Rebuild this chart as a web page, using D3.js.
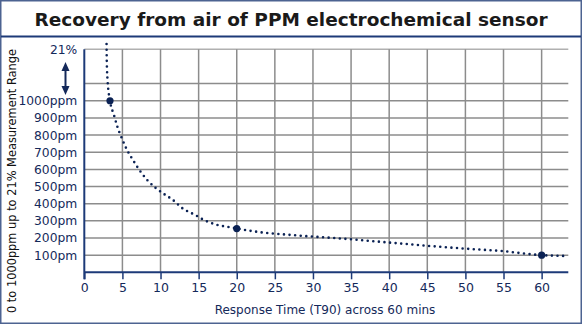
<!DOCTYPE html>
<html><head><meta charset="utf-8">
<script src="https://cdn.jsdelivr.net/npm/d3@7"></script>
<style>
html,body{margin:0;padding:0;background:#fff;}
svg{display:block;font-family:"DejaVu Sans",sans-serif;}
</style></head>
<body><svg id="c" width="582" height="324"></svg>
<script>
const title = "Recovery from air of PPM electrochemical sensor";
const xTitle = "Response Time (T90) across 60 mins";
const yTitle = "0 to 1000ppm up to 21% Measurement Range";
const xTicks = [0,5,10,15,20,25,30,35,40,45,50,55,60];
const yTickValues = [100,200,300,400,500,600,700,800,900,1000,1300];
const yTickLabels = ["100pm","200pm","300pm","400pm","500pm","600pm","700pm","800pm","900pm","1000ppm","21%"];
const yGrid = [100,200,300,400,500,600,700,800,900,1000,1100,1300];
const curveX = [2.92, 2.95, 3.05, 3.37, 3.9, 4.33, 4.9, 5.56, 6.35, 7.17, 8.18, 9.27, 10.41, 11.59, 12.98, 14.43, 15.83, 17.31, 18.89, 20, 23.04, 27, 34.85, 40.1, 46.3, 50.6, 54.5, 60, 63.4];
const curveY = [1331, 1230, 1120, 1000, 916, 850, 784, 717, 657, 600, 542, 495, 458, 423, 370, 337, 302, 278, 264, 255, 234, 218, 193, 173, 150, 136, 125, 100, 95];
const markerX = [3.37, 20, 60];
const markerY = [1000, 255, 100];

const navy = "#14295a", axisBlue = "#1d3a78", grid = "#8c8c8c", border = "#4d6391";
const svg = d3.select("#c");
const x = d3.scaleLinear().domain([0, 63.5]).range([84.3, 568.3]);
const y = d3.scaleLinear().domain([0, 1300]).range([272.3, 49.3]);

// outer border & title separator
svg.append("rect").attr("x",0.75).attr("y",0.75).attr("width",580.5).attr("height",322.5)
  .attr("fill","#fff").attr("stroke",border).attr("stroke-width",1.5);
svg.append("line").attr("x1",1).attr("x2",581).attr("y1",36.5).attr("y2",36.5)
  .attr("stroke",axisBlue).attr("stroke-width",2);
svg.append("text").attr("x",291).attr("y",26).attr("text-anchor","middle")
  .attr("font-size",18.5).attr("font-weight","bold").attr("fill","#1a1a1a").text(title);

// grid
const g = svg.append("g");
g.selectAll(".hg").data(yGrid).join("line")
  .attr("x1",x(0)).attr("x2",x(63.5)).attr("y1",d=>y(d)).attr("y2",d=>y(d))
  .attr("stroke",(d)=>d===1300?"#b0b0b0":grid).attr("stroke-width",1.5);
g.selectAll(".vg").data(xTicks.filter(d=>d>0)).join("line")
  .attr("x1",d=>x(d)).attr("x2",d=>x(d)).attr("y1",y(1300)).attr("y2",y(0))
  .attr("stroke",grid).attr("stroke-width",1.5);

// x axis
const xa = d3.axisBottom(x).tickValues(xTicks).tickSize(7).tickPadding(4).tickFormat(d3.format("d"));
const xg = svg.append("g").attr("transform",`translate(0,${y(0)})`).call(xa);
xg.select(".domain").attr("stroke",axisBlue).attr("stroke-width",2).attr("d",`M${x(0)},0H${x(63.5)}`);
xg.selectAll(".tick line").attr("stroke",axisBlue).attr("stroke-width",1.5);
xg.selectAll(".tick text").attr("fill",navy).attr("font-size",12.5).attr("font-family","DejaVu Sans");

// y axis
const ya = d3.axisLeft(y).tickValues(yTickValues).tickSize(0).tickPadding(7)
  .tickFormat((d,i)=>yTickLabels[i]);
const yg = svg.append("g").attr("transform",`translate(${x(0)},0)`).call(ya);
yg.select(".domain").attr("stroke",axisBlue).attr("stroke-width",2).attr("d",`M0,${y(1300)}V${y(0)+7}`);
yg.selectAll(".tick text").attr("fill",navy).attr("font-size",12.3).attr("font-family","DejaVu Sans");

// double arrow
const ax = 65.5, at = 62, ab = 95;
svg.append("line").attr("x1",ax).attr("x2",ax).attr("y1",at+6).attr("y2",ab-6).attr("stroke",navy).attr("stroke-width",2);
svg.append("path").attr("d",`M${ax},${at}L${ax-4},${at+9}L${ax+4},${at+9}Z`).attr("fill",navy);
svg.append("path").attr("d",`M${ax},${ab}L${ax-4},${ab-9}L${ax+4},${ab-9}Z`).attr("fill",navy);

// titles
svg.append("text").attr("x",325).attr("y",314).attr("text-anchor","middle")
  .attr("font-size",12).attr("fill",navy).text(xTitle);
svg.append("text").attr("transform","translate(16,181) rotate(-90)").attr("text-anchor","middle")
  .attr("font-size",11.4).attr("fill","#111").text(yTitle);

// curve
const pts = curveX.map((v,i)=>[v,curveY[i]]);
const line = d3.line().x(d=>x(d[0])).y(d=>y(d[1])).curve(d3.curveMonotoneX);
svg.append("path").attr("d",line(pts)).attr("fill","none").attr("stroke","#0b2254")
  .attr("stroke-width",2.6).attr("stroke-linecap","round").attr("stroke-dasharray","0 5.6");
svg.selectAll(".mk").data(markerX).join("circle")
  .attr("cx",d=>x(d)).attr("cy",(d,i)=>y(markerY[i])).attr("r",3.6).attr("fill","#0b2254");
</script></body></html>
